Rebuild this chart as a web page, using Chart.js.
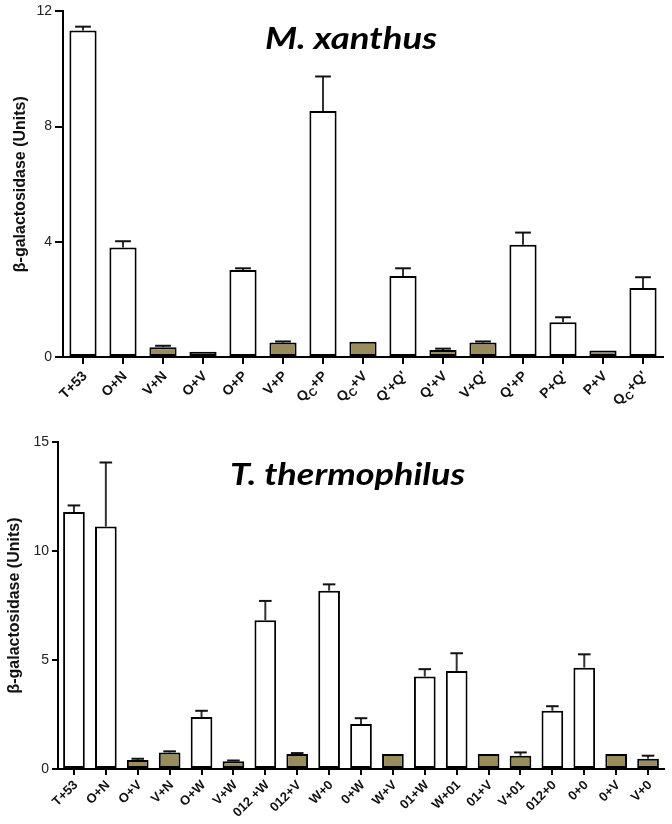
<!DOCTYPE html>
<html>
<head>
<meta charset="utf-8">
<script src="https://cdn.jsdelivr.net/npm/chart.js@4.4.0/dist/chart.umd.min.js"></script>
<style>
  html, body { margin: 0; padding: 0; background: #fff; }
  #wrap { position: relative; width: 672px; height: 824px; overflow: hidden; }
  canvas { position: absolute; left: 0; }
  #c1 { top: 0; }
  #c2 { top: 412px; }
</style>
</head>
<body>
<div id="wrap">
  <canvas id="c1" width="672" height="412"></canvas>
  <canvas id="c2" width="672" height="412"></canvas>
</div>
<script>
// ---------- Data ----------
const topTitle = 'M. xanthus';
const topCategories = ['T+53', 'O+N', 'V+N', 'O+V', 'O+P', 'V+P', 'Q_C+P', 'Q_C+V', "Q'+Q'", "Q'+V", "V+Q'", "Q'+P", "P+Q'", 'P+V', "Q_C+Q'"];
const topValues = [11.34, 3.80, 0.34, 0.18, 3.02, 0.50, 8.54, 0.53, 2.81, 0.24, 0.50, 3.90, 1.21, 0.23, 2.40];
const topErrors = [0.13, 0.22, 0.05, 0, 0.06, 0.04, 1.20, 0, 0.27, 0.05, 0.04, 0.42, 0.17, 0, 0.37];
const topShaded = [0, 0, 1, 1, 0, 1, 0, 1, 0, 1, 1, 0, 0, 1, 0];
const topYTicks = [0, 4, 8, 12];

const bottomTitle = 'T. thermophilus';
const bottomCategories = ['T+53', 'O+N', 'O+V', 'V+N', 'O+W', 'V+W', '012 +W', '012+V', 'W+0', '0+W', 'W+V', '01+W', 'W+01', '01+V', 'V+01', '012+0', '0+0', '0+V', 'V+0'];
const bottomValues = [11.79, 11.12, 0.41, 0.76, 2.38, 0.35, 6.82, 0.69, 8.18, 2.06, 0.69, 4.24, 4.50, 0.69, 0.61, 2.67, 4.65, 0.69, 0.47];
const bottomErrors = [0.30, 2.94, 0.06, 0.05, 0.29, 0.04, 0.89, 0.04, 0.29, 0.27, 0, 0.34, 0.81, 0, 0.15, 0.21, 0.61, 0, 0.14];
const bottomShaded = [0, 0, 1, 1, 0, 1, 0, 1, 0, 0, 1, 0, 0, 1, 1, 0, 0, 1, 1];
const bottomYTicks = [0, 5, 10, 15];

const yTitle = 'β-galactosidase (Units)';

// ---------- Styling ----------
const OLIVE = '#998e5b';
const SANS = '"Liberation Sans", Arial, sans-serif';

// error bar plugin
const errorBars = {
  id: 'errorBars',
  afterDatasetsDraw(chart) {
    const errs = chart.options.plugins.errorBars.errors;
    const meta = chart.getDatasetMeta(0);
    const ys = chart.scales.y;
    const ctx = chart.ctx;
    const vals = chart.data.datasets[0].data;
    ctx.save();
    meta.data.forEach((bar, i) => {
      const e = errs[i];
      if (!e) return;
      const yTop = ys.getPixelForValue(vals[i] + e);
      const cap = bar.width * 0.58;
      ctx.strokeStyle = '#333';
      ctx.lineWidth = 2;
      ctx.beginPath();
      ctx.moveTo(bar.x, bar.y);
      ctx.lineTo(bar.x, yTop);
      ctx.stroke();
      ctx.strokeStyle = '#111';
      ctx.beginPath();
      ctx.moveTo(bar.x - cap / 2, yTop);
      ctx.lineTo(bar.x + cap / 2, yTop);
      ctx.stroke();
    });
    ctx.restore();
  }
};

// x labels with subscripts (Q_C)
function parseLabel(s) {
  const segs = [];
  let i = 0;
  let buf = '';
  while (i < s.length) {
    if (s[i] === '_' && i + 1 < s.length) {
      if (buf) { segs.push({ t: buf, sub: false }); buf = ''; }
      segs.push({ t: s[i + 1], sub: true });
      i += 2;
    } else { buf += s[i]; i++; }
  }
  if (buf) segs.push({ t: buf, sub: false });
  return segs;
}
const xLabels = {
  id: 'xLabels',
  afterDraw(chart) {
    const xs = chart.scales.x;
    const ctx = chart.ctx;
    const o = chart.options.plugins.xLabels;
    const mainFont = 'bold ' + o.size + 'px ' + SANS;
    const subFont = 'bold ' + Math.round(o.size * 0.8) + 'px ' + SANS;
    ctx.save();
    ctx.fillStyle = '#111';
    ctx.textBaseline = 'middle';
    ctx.textAlign = 'left';
    chart.data.labels.forEach((lab, i) => {
      const x = xs.getPixelForTick(i);
      const segs = parseLabel(lab);
      let total = 0;
      segs.forEach(sg => {
        ctx.font = sg.sub ? subFont : mainFont;
        sg.w = ctx.measureText(sg.t).width;
        total += sg.w;
      });
      ctx.save();
      ctx.translate(x + o.dx, xs.top + o.dy);
      ctx.rotate(-Math.PI / 4);
      let cx = -total;
      segs.forEach(sg => {
        ctx.font = sg.sub ? subFont : mainFont;
        ctx.fillText(sg.t, cx, sg.sub ? 5 : 0);
        cx += sg.w;
      });
      ctx.restore();
    });
    ctx.restore();
  }
};

// title plugin
const bigTitle = {
  id: 'bigTitle',
  afterDraw(chart) {
    const o = chart.options.plugins.bigTitle;
    const ctx = chart.ctx;
    ctx.save();
    ctx.font = 'italic bold 30px Lato, "Open Sans", sans-serif';
    ctx.fillStyle = '#000';
    ctx.textBaseline = 'alphabetic';
    ctx.textAlign = 'left';
    const w = ctx.measureText(o.text).width;
    ctx.translate(o.left, o.baseline);
    ctx.scale(o.width / w, 1);
    ctx.fillText(o.text, 0, 0);
    ctx.restore();
  }
};

function makeChart(id, cfg) {
  const colors = cfg.shaded.map(s => s ? OLIVE : '#ffffff');
  return new Chart(document.getElementById(id), {
    type: 'bar',
    data: {
      labels: cfg.categories,
      datasets: [{
        data: cfg.values,
        backgroundColor: colors,
        borderColor: '#000',
        borderWidth: 2,
        borderSkipped: false,
        barPercentage: 0.68,
        categoryPercentage: 1
      }]
    },
    options: {
      responsive: false,
      animation: false,
      devicePixelRatio: 1,
      layout: { padding: { top: cfg.top, right: cfg.right, left: 0, bottom: 0 } },
      plugins: {
        legend: { display: false },
        tooltip: { enabled: false },
        errorBars: { errors: cfg.errors },
        xLabels: cfg.xlab,
        bigTitle: cfg.title
      },
      scales: {
        x: {
          offset: true,
          grid: { display: true, drawOnChartArea: false, drawTicks: true, tickLength: cfg.tickLenX, offset: false, color: '#000', lineWidth: 2 },
          border: { display: true, color: '#000', width: 2 },
          ticks: { display: false, autoSkip: false },
          afterFit: s => { s.height = cfg.xHeight; }
        },
        y: {
          min: 0,
          max: cfg.yTicks[cfg.yTicks.length - 1],
          afterBuildTicks: s => { s.ticks = cfg.yTicks.map(v => ({ value: v })); },
          ticks: { color: '#222', font: { size: 14, family: SANS }, padding: 3 },
          grid: { drawOnChartArea: false, drawTicks: true, tickLength: cfg.tickLenY, color: '#000', lineWidth: 2 },
          border: { display: true, color: '#000', width: 2 },
          title: { display: true, text: yTitle, color: '#111', font: { size: 16, weight: 'bold', family: SANS }, padding: { top: cfg.yTitlePad, bottom: 0 } },
          afterFit: s => { s.width = cfg.left; }
        }
      }
    },
    plugins: [errorBars, xLabels, bigTitle]
  });
}

makeChart('c1', {
  categories: topCategories, values: topValues, errors: topErrors, shaded: topShaded, yTicks: topYTicks,
  top: 11, right: 9, left: 63, xHeight: 55, tickLenX: 7, tickLenY: 8, yTitlePad: 11,
  xlab: { size: 14, dx: 2, dy: 17 },
  title: { text: topTitle, left: 265, baseline: 49, width: 172 }
});
makeChart('c2', {
  categories: bottomCategories, values: bottomValues, errors: bottomErrors, shaded: bottomShaded, yTicks: bottomYTicks,
  top: 30, right: 8, left: 58, xHeight: 55, tickLenX: 6, tickLenY: 6, yTitlePad: 5,
  xlab: { size: 13, dx: 2, dy: 14 },
  title: { text: bottomTitle, left: 230, baseline: 73, width: 235 }
});
</script>
</body>
</html>
